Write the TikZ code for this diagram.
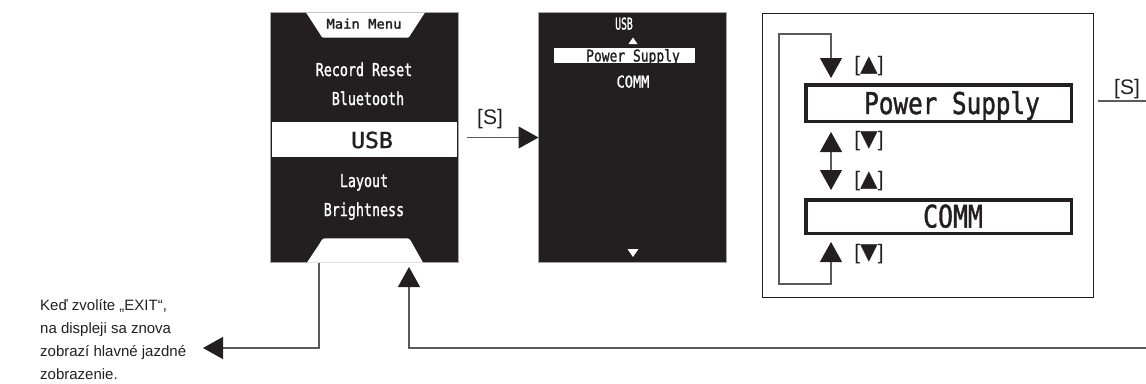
\documentclass[tikz,border=0pt]{standalone}
\usepackage{fontspec}
\usepackage{graphicx}
\setmainfont{Liberation Sans}
\newfontfamily\lcdfont[FakeBold=1.6]{DejaVu Sans Mono}
\newfontfamily\symfont{DejaVu Sans}
\usetikzlibrary{arrows.meta}
\definecolor{scr}{RGB}{35,31,32}
\definecolor{lncol}{RGB}{90,90,90}
\newcommand{\lcdtxt}[3]{\scalebox{#2}[1]{\lcdfont\fontsize{#1}{#1}\selectfont #3}}
\newcommand{\symup}{{\symfont\fontsize{23}{23}\selectfont ▲}}
\newcommand{\symdn}{{\symfont\fontsize{23}{23}\selectfont ▼}}
\tikzset{
  screen/.style={fill=scr, draw=gray!70, line width=0.8pt, minimum width=188pt, minimum height=250pt, inner sep=0pt, outer sep=0pt},
  lcdw/.style={inner sep=0pt, text=white, anchor=base},
  lcdb/.style={inner sep=0pt, text=scr, anchor=base},
  conn/.style={draw=lncol, line width=1.2pt},
  tipend/.style={-{Triangle[length=20pt,width=22pt,color=scr]}},
  tipboth/.style={{Triangle[length=20pt,width=22pt,color=scr]}-{Triangle[length=20pt,width=22pt,color=scr]}},
  lbl/.style={inner sep=0pt, font=\fontsize{21}{21}\selectfont, text=scr},
  selbox/.style={draw=scr, line width=3.5pt, minimum width=265.5pt, inner sep=0pt, outer sep=0pt}
}
\begin{document}
\begin{tikzpicture}[x=1pt,y=-1pt]
\useasboundingbox (0,0) rectangle (1146,383);

% ---- screen 1 : main menu
\node[screen] (scr1) at (364.5,137.5) {};
\fill[white] (306,12.5) -- (320,34) .. controls (322,37.7) .. (327,37.7) -- (404,37.7) .. controls (409,37.7) .. (411,34) -- (425,12.5) -- cycle;
\fill[white] (307,262.6) -- (320,243) .. controls (322.5,238.3) .. (328,238.3) -- (404,238.3) .. controls (409.5,238.3) .. (412,243) -- (423,262.6) -- cycle;
\fill[white] (272,122) rectangle (457,157);
\node[lcdb] (mm) at (364,28.6) {\lcdtxt{13.2}{1.05}{Main Menu}};
\node[lcdw] (rr) at (364,76) {\lcdtxt{17.8}{0.75}{Record Reset}};
\node[lcdw] (bt) at (368,105) {\lcdtxt{17.8}{0.75}{Bluetooth}};
\node[lcdb] (usb) at (372,148) {\lcdtxt{22}{1.05}{USB}};
\node[lcdw] (lay) at (364,187) {\lcdtxt{17.8}{0.75}{Layout}};
\node[lcdw] (bri) at (364,216) {\lcdtxt{17.8}{0.75}{Brightness}};

% ---- screen 2 : USB submenu
\node[screen] (scr2) at (632.5,137.5) {};
\fill[white] (554,48) rectangle (695,63);
\node[lcdw] (usb2) at (624,29.5) {\lcdtxt{16.2}{0.6}{USB}};
\fill[white] (628.5,44) -- (637.5,44) -- (633,37.5) -- cycle;
\node[lcdb] (ps2) at (633,61.5) {\lcdtxt{16.2}{0.8}{Power Supply}};
\node[lcdw] (comm2) at (633,87.5) {\lcdtxt{16.2}{0.84}{COMM}};
\fill[white] (627.5,249) -- (638.5,249) -- (633,257) -- cycle;

% ---- arrow [S] between screens
\draw[conn, tipend] ([xshift=8pt]scr1.east) -- (scr2.west);
\node[lbl] (s1) at (490,119) {[S]};

% ---- selection panel
\node[draw=scr, line width=1.3pt, minimum width=331pt, minimum height=284pt, inner sep=0pt, outer sep=0pt] (sel) at (928,155.5) {};
\node[selbox, minimum height=36.5pt] (psbox) at (938.5,103) {};
\node[lcdb] (pst) at (952,114) {\lcdtxt{30}{0.81}{Power Supply}};
\node[selbox, minimum height=33.5pt] (commbox) at (938.5,216.5) {};
\node[lcdb] (commt) at (953,227.5) {\lcdtxt{31}{0.8}{COMM}};

\coordinate (t1) at (831,78);
\coordinate (b1) at (831,132);
\coordinate (t2) at (831,190);
\coordinate (b2) at (831,242);
\coordinate (loopbl) at (779,284);
\coordinate (looptl) at (779,34);
\draw[conn, tipboth] (b2) |- (loopbl) -- (looptl) -| (t1);
\draw[conn, tipboth] (b1) -- (t2);
\node[lbl] (l1) at (869,66.5) {[\symup]};
\node[lbl] (l2) at (869,141) {[\symdn]};
\node[lbl] (l3) at (869,181) {[\symup]};
\node[lbl] (l4) at (869,254) {[\symdn]};

% ---- [S] to the right
\coordinate (rs) at (1146,101);
\draw[conn] ([xshift=4pt]sel.east |- rs) -- (rs);
\node[lbl] (s2) at (1127,89) {[S]};

% ---- exit and return
\node[anchor=north west, align=left, inner sep=0pt, text=scr, font=\fontsize{15}{22.8}\selectfont] (desc) at (40,299.5)
  {Keď zvolíte „EXIT“,\\na displeji sa znova\\zobrazí hlavné jazdné\\zobrazenie.};
\coordinate (ex1) at (319,348);
\coordinate (extip) at (203,348);
\draw[conn, tipend] (scr1.south -| ex1) -- (ex1) -- (extip);
\coordinate (rt0) at (1146,348);
\coordinate (rtc) at (409,348);
\coordinate (rttip) at (409,267);
\draw[conn, tipend] (rt0) -- (rtc) -- (rttip);
\end{tikzpicture}
\end{document}
